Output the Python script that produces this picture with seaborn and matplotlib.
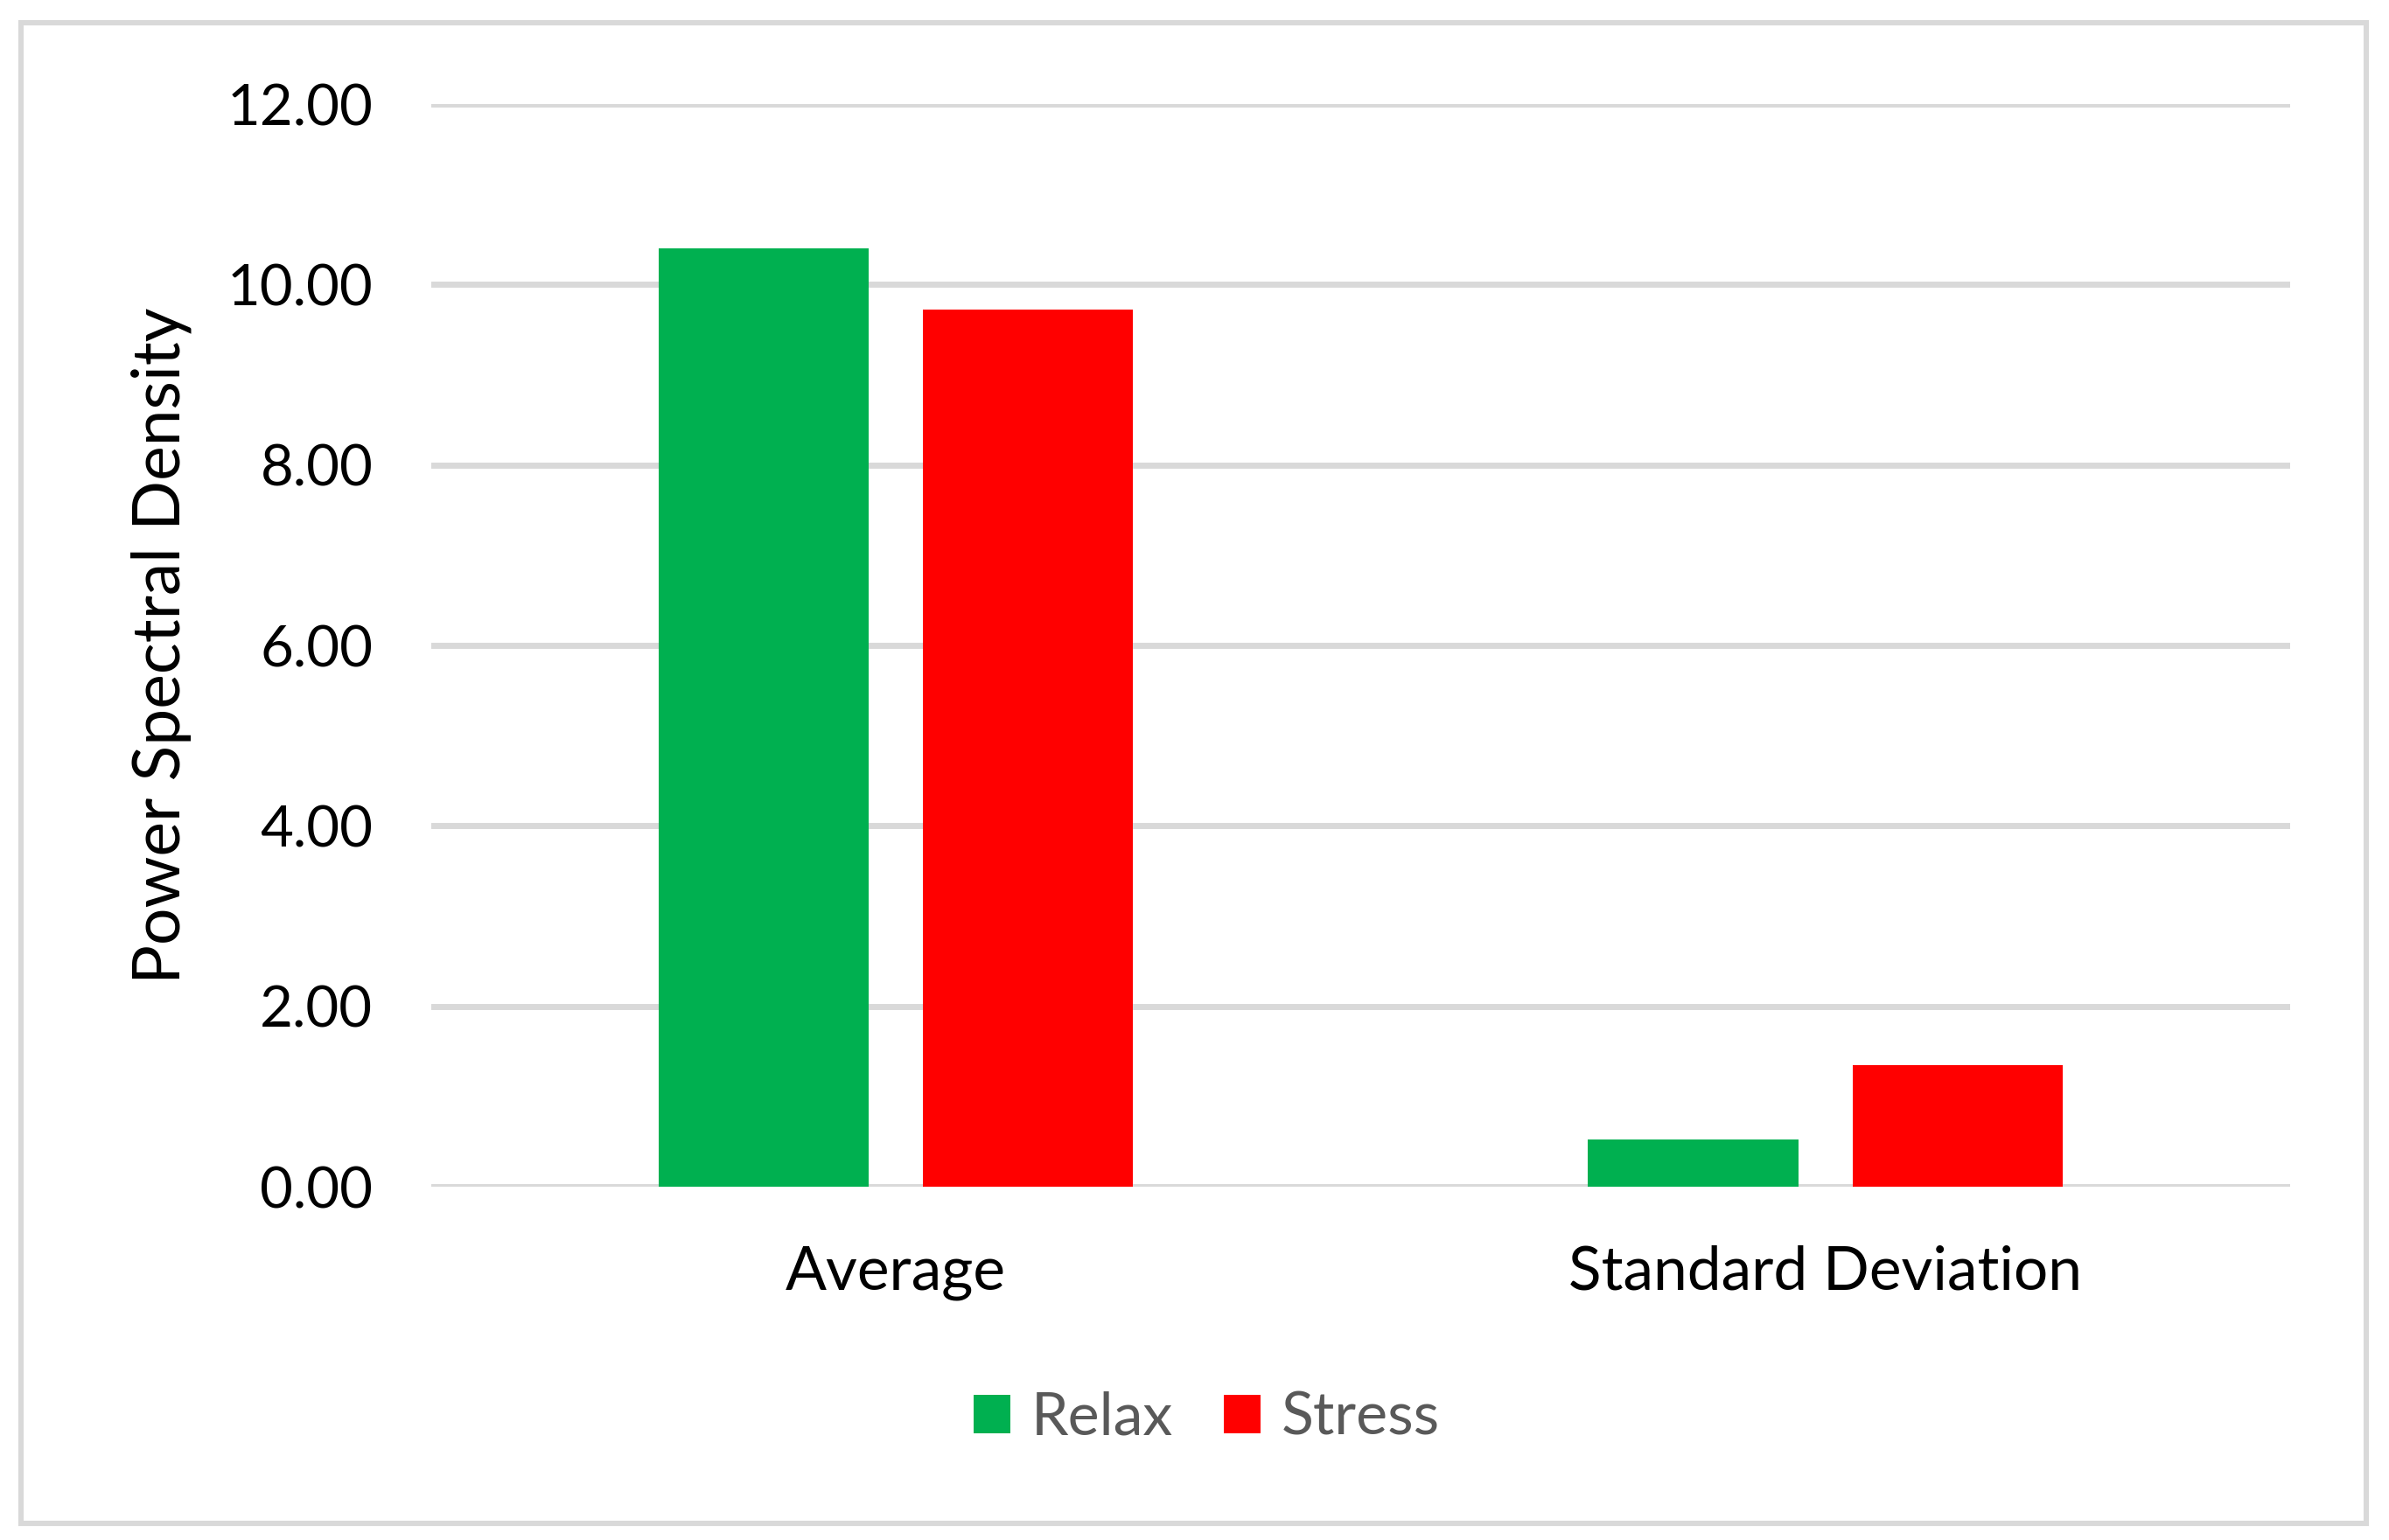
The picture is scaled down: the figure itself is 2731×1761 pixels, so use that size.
import matplotlib
matplotlib.use("Agg")
import matplotlib.pyplot as plt
import matplotlib.patches as mpatches
import seaborn as sns
import pandas as pd

categories = ["Average", "Standard Deviation"]
relax = [10.40, 0.52]
stress = [9.72, 1.35]
groups = ["Relax", "Stress"]

df = pd.DataFrame({
    "stat": categories * 2,
    "group": ["Relax"] * 2 + ["Stress"] * 2,
    "value": relax + stress,
})

sns.set_style("white")
plt.rcParams["font.family"] = ["Lato", "DejaVu Sans"]

fig = plt.figure(figsize=(13.655, 8.805), dpi=200)
ax = fig.add_axes([0.1805, 0.2294, 0.9586 - 0.1805, 0.9324 - 0.2294])

sns.barplot(data=df, x="stat", y="value", hue="group", order=categories,
            hue_order=groups, palette=["#00b050", "#ff0000"],
            width=0.569, gap=0.205, saturation=1, linewidth=0, ax=ax)

ax.set_xlim(-0.5, 1.5)
ax.set_ylim(0, 12)
ax.set_yticks([0, 2, 4, 6, 8, 10, 12])
ax.set_yticklabels(["%.2f" % v for v in [0, 2, 4, 6, 8, 10, 12]])
ax.yaxis.grid(True, color="#d9d9d9", linewidth=2.5)
ax.set_axisbelow(True)
for s in ax.spines.values():
    s.set_visible(False)
ax.tick_params(axis="y", length=0, pad=24, labelsize=23.5, labelcolor="black")
ax.tick_params(axis="x", length=0, pad=24, labelsize=25, labelcolor="black")
ax.set_xlabel("")
ax.set_ylabel("Power Spectral Density", fontsize=27, color="black")
ax.yaxis.set_label_coords(-0.129, 0.5)

h, l = ax.get_legend_handles_labels()
ax.get_legend().remove()
fig.legend(h, l, loc="center", bbox_to_anchor=(0.505, 0.079), ncol=2,
           frameon=False, fontsize=24.5, labelcolor="#595959",
           handlelength=0.62, handleheight=0.62, handletextpad=0.35,
           columnspacing=0.85)

# outer chart border
fig.patches.append(mpatches.Rectangle((24 / 2731, 1 - 1742 / 1761),
                                      (2705 - 24) / 2731, (1742 - 26) / 1761,
                                      transform=fig.transFigure, fill=False,
                                      edgecolor="#d9d9d9", linewidth=2.2))

fig.savefig("out.png", dpi=200, facecolor="white")
plt.close(fig)
